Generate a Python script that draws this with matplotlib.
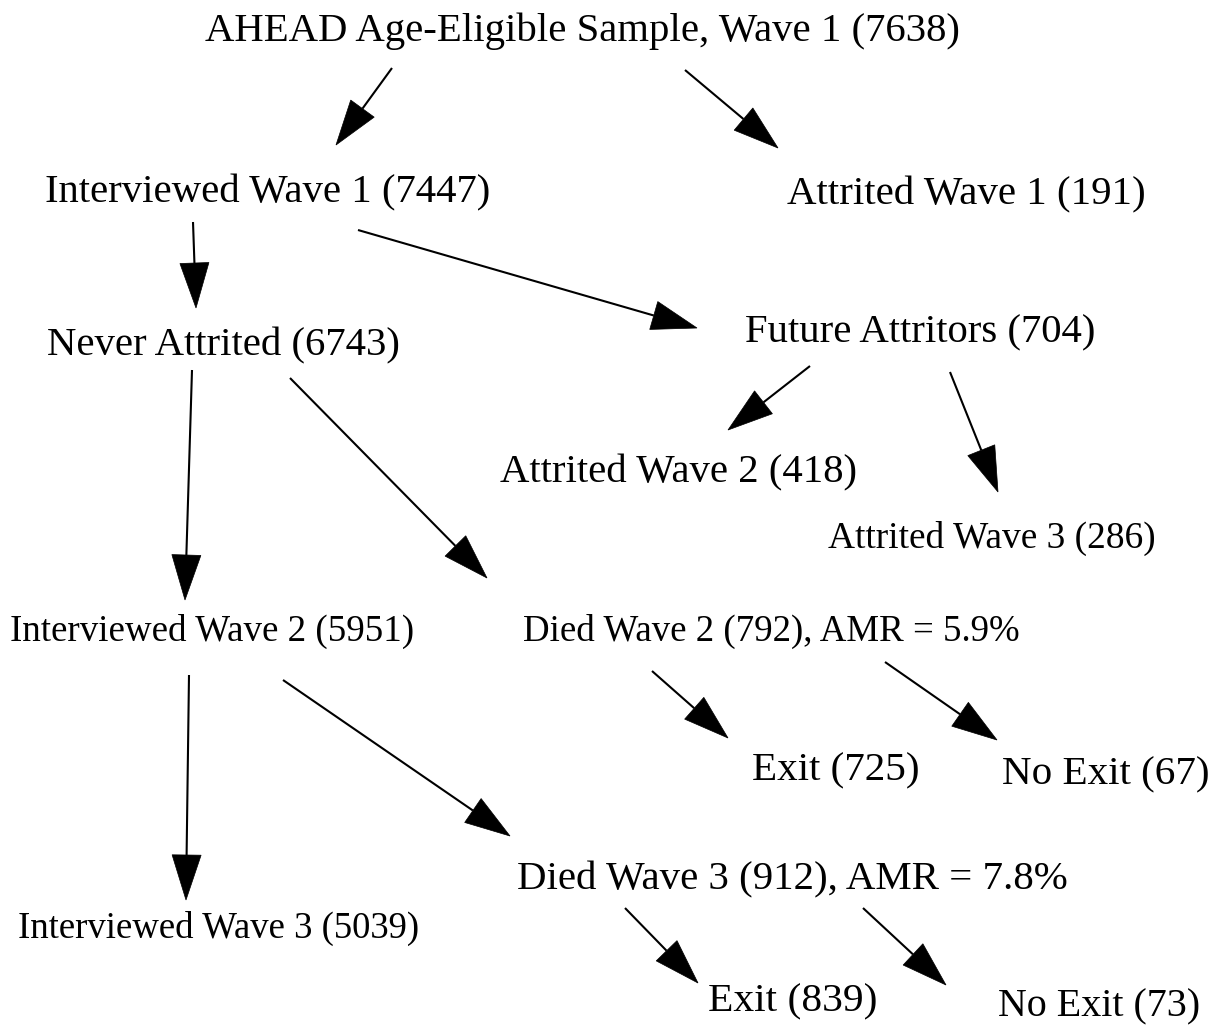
import matplotlib
matplotlib.use("Agg")
import matplotlib.pyplot as plt
from matplotlib.patches import Polygon
import numpy as np

W, H = 1220, 1027

# node labels
labels = [
    "AHEAD Age-Eligible Sample, Wave 1 (7638)",
    "Interviewed Wave 1 (7447)",
    "Attrited Wave 1 (191)",
    "Never Attrited (6743)",
    "Future Attritors (704)",
    "Attrited Wave 2 (418)",
    "Attrited Wave 3 (286)",
    "Interviewed Wave 2 (5951)",
    "Died Wave 2 (792), AMR = 5.9%",
    "Exit (725)",
    "No Exit (67)",
    "Died Wave 3 (912), AMR = 7.8%",
    "Interviewed Wave 3 (5039)",
    "Exit (839)",
    "No Exit (73)",
]

# layout: left x, right x, center y (pixels)
left = [205, 45, 787, 47, 745, 500, 828, 10, 522, 752, 1002, 517, 18, 708, 998]
right = [960, 490, 1145, 400, 1095, 857, 1155, 415, 1020, 920, 1210, 1068, 420, 877, 1200]
ymid = [31, 193, 195, 346, 333, 473, 538, 631, 631, 771, 775, 880, 928, 1002, 1007]

# edges: tail (x, y) -> tip (x, y)
edges = [
    ((392, 68), (336, 145)),
    ((685, 70), (778, 148)),
    ((193, 222), (196, 308)),
    ((358, 230), (697, 328)),
    ((192, 370), (185, 600)),
    ((290, 378), (487, 578)),
    ((810, 366), (728, 430)),
    ((950, 372), (998, 492)),
    ((189, 675), (186, 900)),
    ((283, 680), (510, 836)),
    ((652, 671), (728, 738)),
    ((885, 662), (997, 740)),
    ((625, 908), (698, 983)),
    ((863, 908), (946, 985)),
]

fig = plt.figure(figsize=(W / 100, H / 100), dpi=100)
ax = fig.add_axes([0, 0, 1, 1])
ax.set_xlim(0, W)
ax.set_ylim(H, 0)
ax.axis('off')

fig.canvas.draw()
renderer = fig.canvas.get_renderer()
for lab, l, r, y in zip(labels, left, right, ymid):
    t = ax.text((l + r) / 2, y, lab, ha='center', va='center',
                fontsize=20, family='Liberation Serif', color='black')
    w = t.get_window_extent(renderer).width
    t.set_fontsize(20 * (r - l) / w)

head_len, head_half = 45, 14.5
for (x0, y0), (x1, y1) in edges:
    d = np.array([x1 - x0, y1 - y0], dtype=float)
    n = d / np.hypot(*d)
    p = np.array([-n[1], n[0]])
    base = np.array([x1, y1]) - n * head_len
    ax.plot([x0, base[0]], [y0, base[1]], color='black', lw=1.5, solid_capstyle='butt')
    tri = [(x1, y1), tuple(base + p * head_half), tuple(base - p * head_half)]
    ax.add_patch(Polygon(tri, closed=True, color='black', lw=0.5))

fig.savefig("out.png", dpi=100)
